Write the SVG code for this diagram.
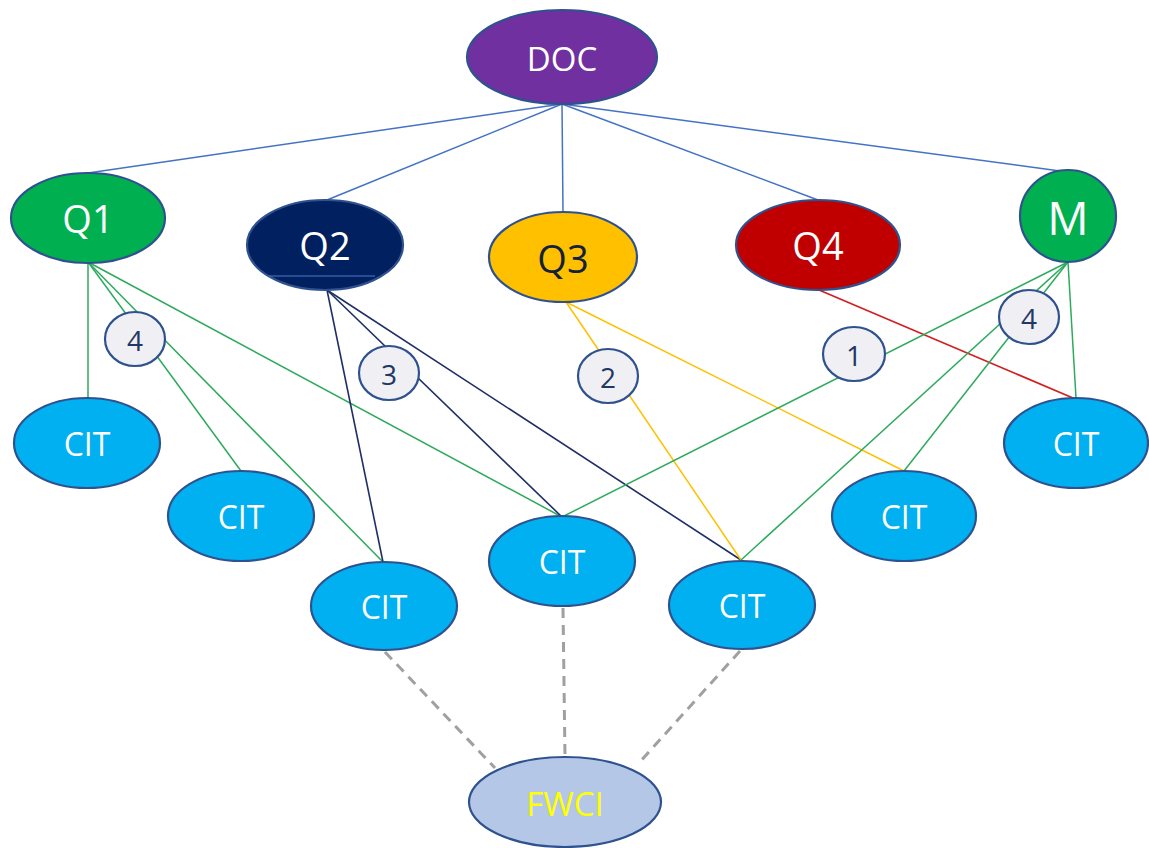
<svg xmlns="http://www.w3.org/2000/svg" width="1149" height="848" viewBox="0 0 1149 848">
<style>
.n{stroke:#2F528F;stroke-width:2.2}
.t{font-family:"Open Sans","Liberation Sans",sans-serif;text-anchor:middle;dominant-baseline:central}
.w{fill:#fff}
.c{fill:#F0F0F4}
.ct{font-size:28px;fill:#1F3864}
.b{stroke:#4472C4;stroke-width:1.5;fill:none}
.g{stroke:#2DAA5C;stroke-width:1.5;fill:none}
.nv{stroke:#1F2F66;stroke-width:1.6;fill:none}
.y{stroke:#FFC000;stroke-width:1.5;fill:none}
.r{stroke:#D22020;stroke-width:1.8;fill:none}
.d{stroke:#A0A0A0;stroke-width:3;stroke-dasharray:10 7;fill:none}
.cit{fill:#00B0F0}
.q{font-size:38px}
.ci{font-size:32px}
</style>
<rect width="1149" height="848" fill="#fff"/>
<g id="connectors">
<line class="b" x1="562" y1="104" x2="88" y2="173"/>
<line class="b" x1="562" y1="104" x2="327" y2="200"/>
<line class="b" x1="562" y1="104" x2="563" y2="212"/>
<line class="b" x1="562" y1="104" x2="818" y2="200"/>
<line class="b" x1="562" y1="104" x2="1060" y2="171"/>
<line class="g" x1="88" y1="262" x2="88" y2="398"/>
<line class="g" x1="88" y1="262" x2="241" y2="471"/>
<line class="g" x1="88" y1="262" x2="383" y2="562"/>
<line class="g" x1="88" y1="262" x2="562" y2="517"/>
<line class="nv" x1="327" y1="290" x2="383" y2="562"/>
<line class="nv" x1="327" y1="290" x2="562" y2="517"/>
<line class="nv" x1="327" y1="290" x2="741" y2="560"/>
<line class="y" x1="566" y1="302" x2="741" y2="560"/>
<line class="y" x1="566" y1="302" x2="904" y2="471"/>
<line class="r" x1="819" y1="290" x2="1073" y2="398"/>
<line class="g" x1="1068" y1="262" x2="1076" y2="398"/>
<line class="g" x1="1068" y1="262" x2="562" y2="517"/>
<line class="g" x1="1068" y1="262" x2="741" y2="560"/>
<line class="g" x1="1068" y1="262" x2="904" y2="471"/>
<line class="d" x1="385" y1="652" x2="495" y2="768"/>
<line class="d" x1="563" y1="608" x2="565" y2="757"/>
<line class="d" x1="740" y1="651" x2="638" y2="764"/>
</g>
<g id="doc"><ellipse class="n" cx="562" cy="57" rx="95" ry="47" fill="#7030A0"/><text class="t w" x="562" y="58" font-size="33">DOC</text></g>
<g id="q1"><ellipse class="n" cx="88" cy="218" rx="77" ry="45" fill="#00B050"/><text class="t w q" x="88" y="218">Q1</text></g>
<g id="q2"><ellipse class="n" cx="325" cy="245" rx="78" ry="45" fill="#002060"/><line x1="269" y1="276" x2="375" y2="276" stroke="#4A78C8" stroke-width="1.2"/><text class="t w q" x="325" y="245">Q2</text></g>
<g id="q3"><ellipse class="n" cx="563" cy="257" rx="74" ry="45" fill="#FFC000"/><text class="t q" x="563" y="258" fill="#14213D">Q3</text></g>
<g id="q4"><ellipse class="n" cx="818" cy="245" rx="82" ry="45" fill="#C00000"/><text class="t w q" x="818" y="245">Q4</text></g>
<g id="m"><ellipse class="n" cx="1068" cy="216" rx="48" ry="46" fill="#00B050"/><text class="t w" x="1068" y="217" font-size="46">M</text></g>
<g id="cit1"><ellipse class="n cit" cx="87" cy="443" rx="73" ry="45"/><text class="t w ci" x="87" y="443">CIT</text></g>
<g id="cit2"><ellipse class="n cit" cx="241" cy="516" rx="73" ry="45"/><text class="t w ci" x="241" y="516">CIT</text></g>
<g id="cit3"><ellipse class="n cit" cx="384" cy="606" rx="73" ry="44"/><text class="t w ci" x="384" y="606">CIT</text></g>
<g id="cit4"><ellipse class="n cit" cx="562" cy="561" rx="73" ry="45"/><text class="t w ci" x="562" y="561">CIT</text></g>
<g id="cit5"><ellipse class="n cit" cx="742" cy="605" rx="73" ry="44"/><text class="t w ci" x="742" y="605">CIT</text></g>
<g id="cit6"><ellipse class="n cit" cx="904" cy="516" rx="72" ry="45"/><text class="t w ci" x="904" y="516">CIT</text></g>
<g id="cit7"><ellipse class="n cit" cx="1076" cy="443" rx="72" ry="45"/><text class="t w ci" x="1076" y="443">CIT</text></g>
<g id="fwci"><ellipse class="n" cx="565" cy="802" rx="96" ry="45" fill="#B4C7E7"/><text class="t" x="565" y="803" font-size="33" fill="#FFFF00">FWCI</text></g>
<g id="lab4a"><ellipse class="n c" cx="135" cy="339" rx="30" ry="27"/><text class="t ct" x="135" y="340">4</text></g>
<g id="lab3"><ellipse class="n c" cx="389" cy="373" rx="30" ry="27"/><text class="t ct" x="389" y="374">3</text></g>
<g id="lab2"><ellipse class="n c" cx="608" cy="376" rx="30" ry="27"/><text class="t ct" x="608" y="377">2</text></g>
<g id="lab1"><ellipse class="n c" cx="854" cy="354" rx="31" ry="27"/><text class="t ct" x="854" y="355">1</text></g>
<g id="lab4b"><ellipse class="n c" cx="1029" cy="317" rx="30" ry="27"/><text class="t ct" x="1029" y="318">4</text></g>
</svg>
